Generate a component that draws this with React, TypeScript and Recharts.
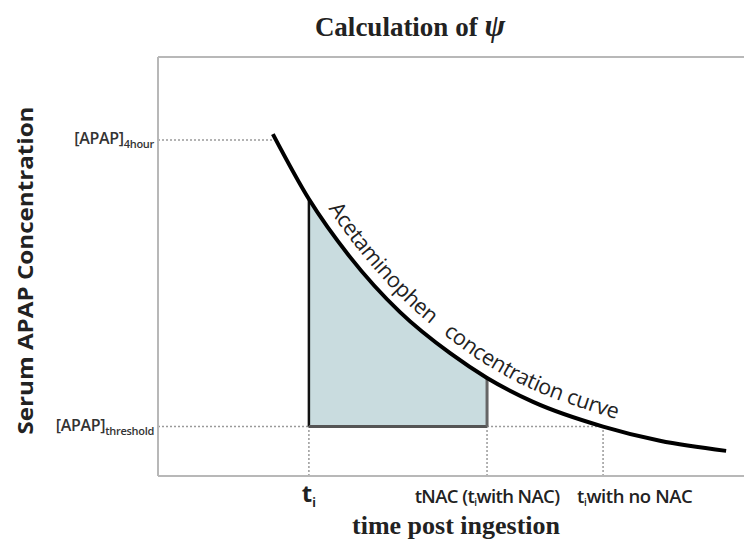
import React from 'react';
import * as R from 'recharts';

const { ComposedChart, Line, Area, XAxis, YAxis, ReferenceLine } = R as any;
const usePlotAreaHook: any = (R as any).usePlotArea || (R as any).useOffset;

// Concentration curve (arbitrary units)
const curveTime = [3.92, 5.15, 6.55, 8.26, 9.97, 11.23, 12.8, 15.19, 17.13, 19.39];
const curveConc = [81.6, 66.1, 52.3, 39.1, 29.3, 23.4, 17.7, 11.8, 8.4, 6.0];

// key times and concentrations
const T_I = 5.15;
const T_NAC = 11.23;
const T_NO_NAC = 15.19;
const C_4H = 80.2;
const C_THRESH = 11.8;
const C_AT_TI = 66.1;
const C_AT_TNAC = 23.4;

const xTicks = [T_I, T_NAC, T_NO_NAC];
const yTicks = [C_THRESH, C_4H];
const ySubs = ['threshold', '4hour'];

const X_DOMAIN = [0, 20];
const Y_DOMAIN = [0, 100];

const curveData = curveTime.map((t, i) => ({ t, c: curveConc[i] }));
const areaData = curveTime
  .map((t, i) => ({ t, range: [C_THRESH, curveConc[i]] }))
  .filter((d) => d.t >= T_I && d.t <= T_NAC);

const SANS = "'Open Sans', 'DejaVu Sans', sans-serif";
const SERIF = "'Liberation Serif', 'DejaVu Serif', serif";
const GRID = '#b8b8b8';
const DOT = '#9a9a9a';

const YTick = (props: any) => {
  const { x, y, payload } = props;
  const i = yTicks.indexOf(payload.value);
  return (
    <text x={x} y={y + 4} textAnchor="end" fontFamily={SANS} fontSize={16} fontWeight={600} fill="#333" letterSpacing={-0.3}>
      [APAP]
      <tspan fontSize={11} dy={4}>{ySubs[i]}</tspan>
    </text>
  );
};

const XTick = (props: any) => {
  const { x, y, payload } = props;
  const v = payload.value;
  if (v === T_I) {
    return (
      <text x={x} y={y + 26} textAnchor="middle" fontFamily={SANS} fontSize={24} fontWeight={700} fill="#222">
        t<tspan fontSize={12} dy={5}>i</tspan>
      </text>
    );
  }
  if (v === T_NAC) {
    return (
      <text x={x} y={y + 27} textAnchor="middle" fontFamily={SANS} fontSize={18.5} fontWeight={600} fill="#222" letterSpacing={-0.6}>
        tNAC (t<tspan fontSize={10} dy={3}>i</tspan>
        <tspan dy={-3}>with NAC)</tspan>
      </text>
    );
  }
  return (
    <text x={x - 26} y={y + 27} textAnchor="start" fontFamily={SANS} fontSize={18.5} fontWeight={600} fill="#222" letterSpacing={-0.4}>
      t<tspan fontSize={10} dy={3}>i</tspan>
      <tspan dy={-3}>with no NAC</tspan>
    </text>
  );
};

function catmull(pts: number[][], steps: number) {
  const out: number[][] = [];
  for (let i = 0; i < pts.length - 1; i++) {
    const p0 = pts[Math.max(0, i - 1)];
    const p1 = pts[i];
    const p2 = pts[i + 1];
    const p3 = pts[Math.min(pts.length - 1, i + 2)];
    for (let s = 0; s < steps; s++) {
      const u = s / steps;
      const u2 = u * u;
      const u3 = u2 * u;
      const f = (a: number, b: number, c: number, d: number) =>
        0.5 * (2 * b + (-a + c) * u + (2 * a - 5 * b + 4 * c - d) * u2 + (-a + 3 * b - 3 * c + d) * u3);
      out.push([f(p0[0], p1[0], p2[0], p3[0]), f(p0[1], p1[1], p2[1], p3[1])]);
    }
  }
  out.push(pts[pts.length - 1]);
  return out;
}

function Overlay() {
  const plot = usePlotAreaHook ? usePlotAreaHook() : null;
  if (!plot) return null;
  const px = plot.x ?? plot.left;
  const py = plot.y ?? plot.top;
  const sx = (t: number) => px + ((t - X_DOMAIN[0]) / (X_DOMAIN[1] - X_DOMAIN[0])) * plot.width;
  const sy = (c: number) => py + plot.height - ((c - Y_DOMAIN[0]) / (Y_DOMAIN[1] - Y_DOMAIN[0])) * plot.height;
  const pts = curveData.map((d) => [sx(d.t), sy(d.c)]);
  const dense = catmull(pts, 12);
  const off = 11;
  const shifted = dense.map((p, i) => {
    const a = dense[Math.max(0, i - 1)];
    const b = dense[Math.min(dense.length - 1, i + 1)];
    const dx = b[0] - a[0];
    const dy = b[1] - a[1];
    const len = Math.hypot(dx, dy) || 1;
    return [p[0] + (dy / len) * off, p[1] - (dx / len) * off];
  });
  const d = 'M' + shifted.map((p) => p[0].toFixed(1) + ',' + p[1].toFixed(1)).join(' L');
  return (
    <g>
      <defs>
        <path id="curveLabelPath" d={d} />
      </defs>
      <text fontFamily={SANS} fontSize={21.5} fill="#222" letterSpacing={-0.3}>
        <textPath href="#curveLabelPath" startOffset={92}>
          Acetaminophen{'\u00a0\u00a0\u00a0'}concentration curve
        </textPath>
      </text>
      <text x={sx(7.6)} y={sy(21.7)} textAnchor="middle" fontFamily={SERIF} fontStyle="italic" fontSize={50} fill="#222">
        ψ
      </text>
    </g>
  );
}

export default function App() {
  return (
    <div style={{ position: 'absolute', left: 0, top: 0, width: 744, height: 546, background: '#fff' }}>
      <svg width={744} height={546} style={{ position: 'absolute', left: 0, top: 0, pointerEvents: 'none' }}>
        <text x={410} y={36} textAnchor="middle" fontFamily={SERIF} fontWeight={700} fontSize={27} fill="#222">
          Calculation of <tspan fontStyle="italic" fontSize={31}>ψ</tspan>
        </text>
      </svg>
      <ComposedChart
        width={744}
        height={546}
        data={curveData}
        margin={{ top: 57, right: 0, bottom: 0, left: 0 }}
        style={{ position: 'absolute', left: 0, top: 0 }}
      >
        <XAxis
          type="number"
          dataKey="t"
          domain={X_DOMAIN}
          ticks={xTicks}
          tick={<XTick />}
          tickLine={false}
          tickSize={0}
          tickMargin={0}
          axisLine={{ stroke: GRID, strokeWidth: 2 }}
          height={70}
          allowDataOverflow
          interval={0}
          label={{
            content: (p: any) => {
              const vb = p.viewBox || {};
              return (
                <text x={456} y={(vb.y ?? 476) + 58} textAnchor="middle" fontFamily={SERIF} fontWeight={700} fontSize={26} fill="#222">
                  time post ingestion
                </text>
              );
            },
          }}
        />
        <YAxis
          type="number"
          domain={Y_DOMAIN}
          ticks={yTicks}
          tick={<YTick />}
          tickLine={false}
          tickSize={0}
          tickMargin={4}
          axisLine={{ stroke: GRID, strokeWidth: 2 }}
          width={158}
          allowDataOverflow
          interval={0}
          label={{
            content: (p: any) => {
              const vb = p.viewBox || {};
              const cy = (vb.y ?? 57) + (vb.height ?? 419) / 2 + 4;
              return (
                <text x={33} y={cy} transform={`rotate(-90 33 ${cy})`} textAnchor="middle" fontFamily={SANS} fontWeight={700} fontSize={22} fill="#222" textLength={328} lengthAdjust="spacingAndGlyphs">
                  Serum APAP Concentration
                </text>
              );
            },
          }}
        />
        <ReferenceLine y={Y_DOMAIN[1]} stroke={GRID} strokeWidth={2} />
        <Area
          data={areaData}
          dataKey="range"
          type="monotone"
          fill="#c9dcdf"
          fillOpacity={1}
          stroke="none"
          isAnimationActive={false}
        />
        {/* dotted guides */}
        <ReferenceLine segment={[{ x: 0, y: C_4H }, { x: curveTime[0], y: C_4H }]} stroke={DOT} strokeDasharray="2 2" strokeWidth={1.5} />
        <ReferenceLine segment={[{ x: 0, y: C_THRESH }, { x: T_I, y: C_THRESH }]} stroke={DOT} strokeDasharray="2 2" strokeWidth={1.5} />
        <ReferenceLine segment={[{ x: T_NAC, y: C_THRESH }, { x: T_NO_NAC, y: C_THRESH }]} stroke={DOT} strokeDasharray="2 2" strokeWidth={1.5} />
        <ReferenceLine segment={[{ x: T_I, y: 0 }, { x: T_I, y: C_THRESH }]} stroke={DOT} strokeDasharray="2 2" strokeWidth={1.5} />
        <ReferenceLine segment={[{ x: T_NAC, y: 0 }, { x: T_NAC, y: C_THRESH }]} stroke={DOT} strokeDasharray="2 2" strokeWidth={1.5} />
        <ReferenceLine segment={[{ x: T_NO_NAC, y: 0 }, { x: T_NO_NAC, y: C_THRESH }]} stroke={DOT} strokeDasharray="2 2" strokeWidth={1.5} />
        {/* shaded region edges */}
        <ReferenceLine segment={[{ x: T_I, y: C_THRESH }, { x: T_I, y: C_AT_TI }]} stroke="#111" strokeWidth={2.5} />
        <ReferenceLine segment={[{ x: T_I, y: C_THRESH }, { x: T_NAC, y: C_THRESH }]} stroke="#555" strokeWidth={3} />
        <ReferenceLine segment={[{ x: T_NAC, y: C_THRESH }, { x: T_NAC, y: C_AT_TNAC }]} stroke="#666" strokeWidth={3} />
        <Line
          dataKey="c"
          type="monotone"
          stroke="#000"
          strokeWidth={4}
          dot={false}
          isAnimationActive={false}
        />
        <Overlay />
      </ComposedChart>
    </div>
  );
}
